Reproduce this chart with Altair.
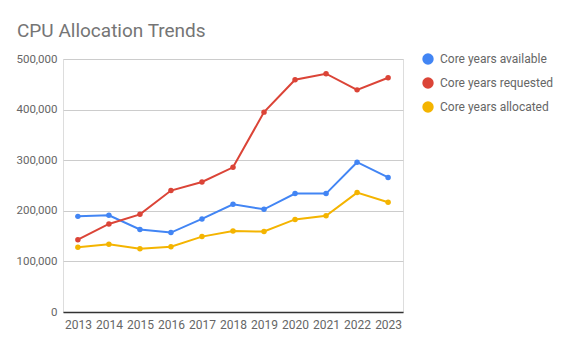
import altair as alt
import pandas as pd

years = [str(y) for y in range(2013, 2024)]
available = [189000, 191000, 163000, 157000, 184000, 213000, 203000, 234000, 234000, 296000, 266000]
requested = [143000, 174000, 193000, 240000, 257000, 286000, 395000, 459000, 471000, 439000, 463000]
allocated = [128000, 134000, 125000, 129000, 149000, 160000, 159000, 183000, 190000, 236000, 217000]

series_names = ["Core years available", "Core years requested", "Core years allocated"]
colors = ["#4285F4", "#DB4437", "#F4B400"]

rows = []
for name, vals in zip(series_names, [available, requested, allocated]):
    for y, v in zip(years, vals):
        rows.append({"Year": y, "Value": v, "Series": name})
df = pd.DataFrame(rows)

color = alt.Color(
    "Series:N",
    scale=alt.Scale(domain=series_names, range=colors),
    legend=alt.Legend(
        title=None, orient="none", legendX=359, legendY=-6,
        symbolType="circle", symbolSize=130, symbolStrokeWidth=0,
        labelFont="Roboto", labelFontSize=12, labelColor="#666666",
        rowPadding=12, labelOffset=6,
    ),
)

x = alt.X("Year:O", scale=alt.Scale(type="point", padding=0.48),
          axis=alt.Axis(title=None, labelAngle=0, labelFont="Roboto", labelFontSize=12,
                        labelColor="#666666", ticks=False, domainColor="#333333",
                        domainWidth=1.5, labelPadding=7, grid=False))
y = alt.Y("Value:Q", scale=alt.Scale(domain=[0, 500000]),
          axis=alt.Axis(title=None, values=[0, 100000, 200000, 300000, 400000, 500000],
                        format=",d", labelFont="Roboto", labelFontSize=11.5,
                        labelColor="#666666", ticks=False, domain=False,
                        gridColor="#cccccc", labelPadding=6))

base = alt.Chart(df).encode(x=x, y=y, color=color, order=alt.Order("Year:O"))
lines = base.mark_line(strokeWidth=2)
points = base.mark_point(filled=True, size=30, opacity=1)

chart = (lines + points).properties(
    width=340, height=253,
    title=alt.TitleParams("CPU Allocation Trends", anchor="start", frame="group", dx=-46,
                          offset=24, dy=27,
                          baseline="alphabetic", font="Roboto", fontSize=19,
                          fontWeight="normal", color="#757575"),
    padding={"left": 63, "top": 59, "right": 163, "bottom": 37},
    autosize=alt.AutoSizeParams(type="none"),
).configure_view(stroke=None).configure(background="white")

chart.save("out.html", embed_options={"renderer": "svg", "actions": False})
